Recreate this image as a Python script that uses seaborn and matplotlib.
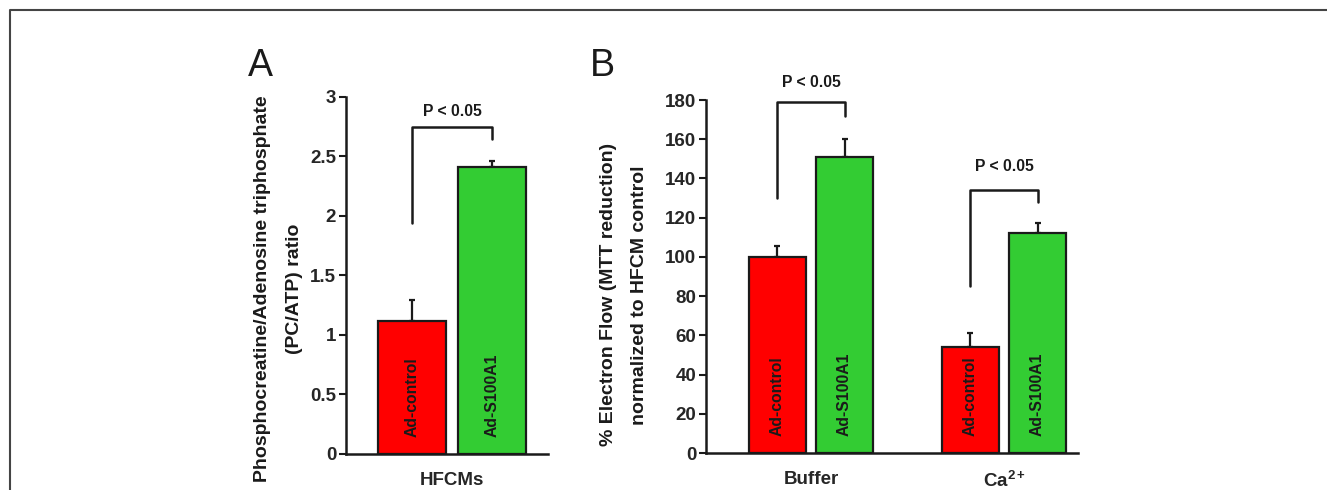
import pandas as pd
import numpy as np
import seaborn as sns
import matplotlib.pyplot as plt
from matplotlib.lines import Line2D

# ---------------- DATA ------------------
treatments = ["Ad-control", "Ad-S100A1"]
colors = ["#ff0000", "#33cc33"]

# panel A: PC/ATP ratio in HFCMs
a_groups = ["HFCMs"]
a_values = [1.12, 2.41]
a_errors = [0.17, 0.05]
a_bracket = [1.94, 2.75, 2.65]   # left foot, top, right foot
a_ptext = 2.88

# panel B: electron flow (MTT reduction)
b_groups = ["Buffer", "Ca$^{2+}$"]
b_values = [100, 151, 54, 112]    # Buffer ctrl, Buffer S100A1, Ca ctrl, Ca S100A1
b_errors = [5.5, 9, 7, 5.5]
b_brackets = [[130, 179, 172], [85, 134, 128]]
b_ptext = [189, 146]

# ---------------- STYLE ------------------
sns.set_style("white")
plt.rcParams["font.family"] = ["Liberation Sans", "DejaVu Sans"]
plt.rcParams["font.weight"] = "bold"
plt.rcParams["mathtext.fontset"] = "custom"
plt.rcParams["mathtext.rm"] = "Liberation Sans:bold"
plt.rcParams["mathtext.it"] = "Liberation Sans:bold"
plt.rcParams["mathtext.bf"] = "Liberation Sans:bold"

INK = "#1a1a1a"

fig = plt.figure(figsize=(13.27, 4.9), dpi=100)
axA = fig.add_axes([0.2607, 0.0735, 0.1522, 0.7286])
axB = fig.add_axes([0.532, 0.0755, 0.2803, 0.7204])


def draw_panel(ax, groups, values, errors):
    df = pd.DataFrame({
        "group": np.repeat(groups, len(treatments)),
        "treatment": treatments * len(groups),
        "value": values,
    })
    sns.barplot(data=df, x="group", y="value", hue="treatment", hue_order=treatments,
                palette=colors, saturation=1, width=0.695, gap=0.15, errorbar=None,
                edgecolor=INK, linewidth=1.6, legend=False, ax=ax, zorder=3)
    bars = sorted(ax.patches, key=lambda p: p.get_x())
    xs = [p.get_x() + p.get_width() / 2 for p in bars]
    tops = [p.get_height() for p in bars]
    ax.errorbar(xs, tops, yerr=[np.zeros(len(errors)), errors], fmt="none",
                ecolor=INK, elinewidth=1.6, capsize=2.5, capthick=1.6, zorder=2)
    for x, lab in zip(xs, treatments * len(groups)):
        ax.annotate(lab, (x, 0), xytext=(0, 12), textcoords="offset points",
                    rotation=90, ha="center", va="bottom", fontsize=11.3,
                    fontweight="bold", color=INK, zorder=4)
    for s in ["top", "right"]:
        ax.spines[s].set_visible(False)
    for s in ["left", "bottom"]:
        ax.spines[s].set_color(INK)
        ax.spines[s].set_linewidth(1.8)
    ax.tick_params(axis="y", direction="out", length=5, width=1.5, color=INK,
                   labelsize=13.5, pad=2, left=True)
    ax.tick_params(axis="x", length=0, labelsize=13.5, pad=13)
    ax.set_xlabel("")
    return xs


def bracket(ax, x0, x1, low, top, right_low, ptxt):
    ax.plot([x0, x0, x1, x1], [low, top, top, right_low], color=INK, lw=1.8,
            clip_on=False, zorder=5)
    ax.text((x0 + x1) / 2, ptxt, "P < 0.05", ha="center", va="center",
            fontsize=11.3, fontweight="bold", color=INK, clip_on=False)


# ---------------- PANEL A ------------------
xsA = draw_panel(axA, a_groups, a_values, a_errors)
axA.set_ylim(0, 3)
axA.set_xlim(-0.463, 0.419)
axA.set_yticks([0, 0.5, 1, 1.5, 2, 2.5, 3])
axA.set_yticklabels(["0", "0.5", "1", "1.5", "2", "2.5", "3"])
bracket(axA, xsA[0], xsA[1], a_bracket[0], a_bracket[1], a_bracket[2], a_ptext)
axA.set_ylabel("Phosphocreatine/Adenosine triphosphate\n(PC/ATP) ratio",
               fontsize=14, fontweight="bold", linespacing=2.1, color=INK)
axA.yaxis.set_label_coords(-0.215, 0.462)

# ---------------- PANEL B ------------------
xsB = draw_panel(axB, b_groups, b_values, b_errors)
axB.set_ylim(0, 180)
axB.set_xlim(-0.544, 1.383)
axB.set_yticks(np.arange(0, 181, 20))
for i, (lo, tp, rl) in enumerate(b_brackets):
    bracket(axB, xsB[2 * i], xsB[2 * i + 1], lo, tp, rl, b_ptext[i])
axB.set_ylabel("% Electron Flow (MTT reduction)\nnormalized to HFCM control",
               fontsize=14, fontweight="bold", linespacing=2.1, color=INK)
axB.yaxis.set_label_coords(-0.155, 0.448)

# panel letters
fig.text(248 / 1327, 1 - 76 / 490, "A", fontsize=27, fontweight="normal", color=INK)
fig.text(590 / 1327, 1 - 76 / 490, "B", fontsize=27, fontweight="normal", color=INK)

# frame lines at top and left
fig.add_artist(Line2D([10 / 1327, 10 / 1327, 1], [0, 1 - 10 / 490, 1 - 10 / 490],
                      color="#444444", lw=1.5, transform=fig.transFigure))

fig.savefig("out.png", dpi=100)
